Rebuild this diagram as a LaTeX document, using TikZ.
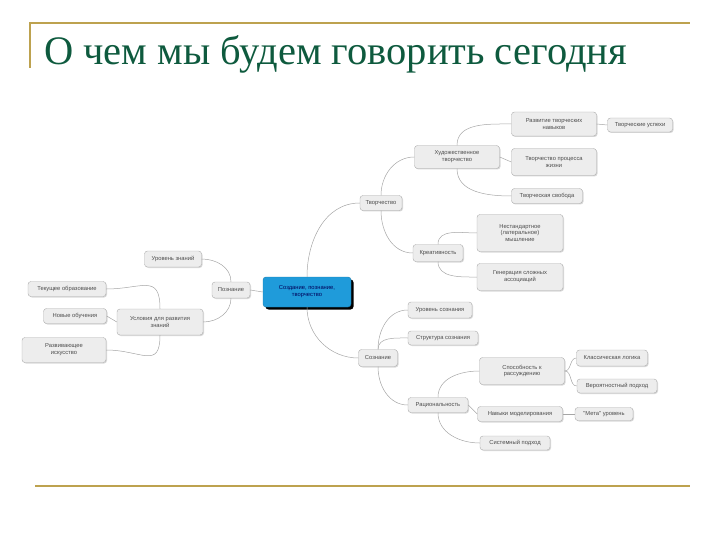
\documentclass[tikz,border=0pt]{standalone}
\usepackage{fontspec}
\setmainfont{Liberation Serif}
\newfontfamily\mapfont{Liberation Sans}
\usetikzlibrary{shadows}
\definecolor{gold}{HTML}{BDA24F}
\definecolor{titlegreen}{HTML}{0E5A3E}
\definecolor{boxblue}{HTML}{1F9BDA}
\begin{document}
\begin{tikzpicture}[
      x=1pt, y=-1pt,
      topic/.style={draw=gray!65, fill=gray!14, rounded corners=3pt, align=center,
        font=\mapfont\fontsize{5.8}{6.9}\selectfont, text=black!70, inner sep=1.5pt,
        drop shadow={shadow xshift=1pt, shadow yshift=-1pt, fill=gray!60}},
      central/.style={topic, draw=boxblue!80!black, fill=boxblue, text=blue!35!black,
        drop shadow={shadow xshift=2.5pt, shadow yshift=-2.5pt, fill=black, opacity=1}},
      link/.style={draw=gray!70, line width=0.5pt}
    ]
    \useasboundingbox (0,0) rectangle (720,540);
    % Заголовок и рамка слайда
    \draw[gold, line width=1.5pt] (30,68) -- (30,23) -- (690,23);
    \draw[gold, line width=2pt] (35,486) -- (690,486);
    \node[anchor=base west, text=titlegreen, font=\fontsize{40.5}{42}\selectfont, inner sep=0pt]
      (title) at (44,65) {О чем мы будем говорить сегодня};

    % Центр
    \node[central, minimum width=88pt, minimum height=30pt] (cen) at (307,292) {Создание, познание,\\творчество};

    % Познание
    \node[topic, minimum width=38pt, minimum height=16pt] (poz) at (231,290) {Познание};
    \node[topic, minimum width=57pt, minimum height=16pt] (urz) at (173,259) {Уровень знаний};
    \node[topic, minimum width=86pt, minimum height=26pt] (usl) at (160,322) {Условия для развития\\знаний};
    \node[topic, minimum width=78pt, minimum height=15pt] (tek) at (67,289) {Текущее образование};
    \node[topic, minimum width=63pt, minimum height=15pt] (nov) at (75,316) {Новые обучения};
    \node[topic, minimum width=84pt, minimum height=25pt] (raz) at (64,350) {Развивающее\\искусство};

    % Творчество
    \node[topic, minimum width=42pt, minimum height=15pt] (tvor) at (381,203) {Творчество};
    \node[topic, minimum width=85pt, minimum height=23pt] (hud) at (457,157) {Художественное\\творчество};
    \node[topic, minimum width=85pt, minimum height=24pt] (rtn) at (554,124) {Развитие творческих\\навыков};
    \node[topic, minimum width=65pt, minimum height=14pt] (tus) at (640,125) {Творческие успехи};
    \node[topic, minimum width=85pt, minimum height=27pt] (tpj) at (554,162) {Творчество процесса\\жизни};
    \node[topic, minimum width=71pt, minimum height=15pt] (tsv) at (547,196) {Творческая свобода};
    \node[topic, minimum width=50pt, minimum height=17pt] (kre) at (438,253) {Креативность};
    \node[topic, minimum width=86pt, minimum height=37pt] (nes) at (520,233) {Нестандартное\\(латеральное)\\мышление};
    \node[topic, minimum width=86pt, minimum height=27pt] (gen) at (520,277) {Генерация сложных\\ассоциаций};

    % Сознание
    \node[topic, minimum width=39pt, minimum height=17pt] (soz) at (378,358) {Сознание};
    \node[topic, minimum width=64pt, minimum height=16pt] (urs) at (440,310) {Уровень сознания};
    \node[topic, minimum width=70pt, minimum height=14pt] (str) at (443,338) {Структура сознания};
    \node[topic, minimum width=60pt, minimum height=15pt] (rac) at (438,405) {Рациональность};
    \node[topic, minimum width=85pt, minimum height=27pt] (spo) at (522,371) {Способность к\\рассуждению};
    \node[topic, minimum width=71pt, minimum height=16pt] (kla) at (612,358) {Классическая логика};
    \node[topic, minimum width=80pt, minimum height=14pt] (ver) at (617,386) {Вероятностный подход};
    \node[topic, minimum width=85pt, minimum height=15pt] (nav) at (520,414) {Навыки моделирования};
    \node[topic, minimum width=58pt, minimum height=13pt] (met) at (604,414) {\textquotedbl Мета\textquotedbl\ уровень};
    \node[topic, minimum width=70pt, minimum height=14pt] (sis) at (515,443) {Системный подход};

    % Связи
    \draw[link] (cen.west) -- (poz.east);
    \draw[link] (cen.north) to[out=90, in=180] (tvor.west);
    \draw[link] (cen.south) to[out=-90, in=180] (soz.west);
    \draw[link] (poz.north) to[out=90, in=0] (urz.east);
    \draw[link] (poz.south) to[out=-90, in=0] (usl.east);
    \draw[link] (usl.north) to[out=90, in=0, looseness=1.6] (tek.east);
    \draw[link] (usl.west) -- (nov.east);
    \draw[link] (usl.south) to[out=-90, in=0, looseness=1.6] (raz.east);
    \draw[link] (tvor.north) to[out=90, in=180] (hud.west);
    \draw[link] (tvor.south) to[out=-90, in=180] (kre.west);
    \draw[link] (hud.north) to[out=90, in=180] (rtn.west);
    \draw[link] (hud.east) -- (tpj.west);
    \draw[link] (hud.south) to[out=-90, in=180] (tsv.west);
    \draw[link] (rtn.east) -- (tus.west);
    \draw[link] (kre.north) to[out=90, in=180] (nes.west);
    \draw[link] (kre.south) to[out=-90, in=180] (gen.west);
    \draw[link] (soz.north) to[out=90, in=180] (urs.west);
    \draw[link] (soz.north) to[out=90, in=180] (str.west);
    \draw[link] (soz.south) to[out=-90, in=180] (rac.west);
    \draw[link] (rac.north) to[out=90, in=180] (spo.west);
    \draw[link] (rac.east) -- (nav.west);
    \draw[link] (rac.south) to[out=-90, in=180] (sis.west);
    \draw[link] (spo.east) to[out=0, in=180] (kla.west);
    \draw[link] (spo.east) to[out=0, in=180] (ver.west);
    \draw[link] (nav.east) -- (met.west);
  \end{tikzpicture}
\end{document}
